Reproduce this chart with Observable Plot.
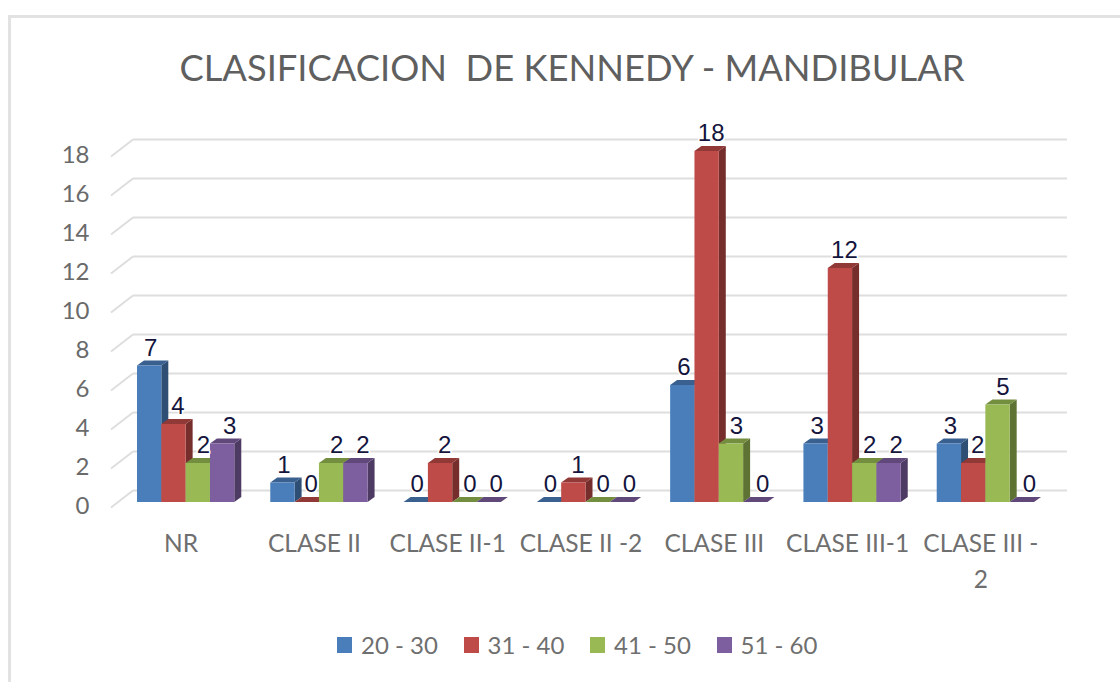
<!DOCTYPE html>
<html>
<head>
<meta charset="utf-8">
<script src="https://cdn.jsdelivr.net/npm/d3@7"></script>
<script src="https://cdn.jsdelivr.net/npm/@observablehq/plot@0.6"></script>
<style>
  html, body { margin: 0; background: #fff; }
  #page { position: relative; width: 1120px; height: 682px; overflow: hidden; font-family: Lato, "Open Sans", sans-serif; }
  #frame { position: absolute; left: 8px; top: 15px; width: 1200px; height: 800px; border: 3px solid #e2e2e2; box-sizing: border-box; }
  #title { position: absolute; left: 0; top: 43px; width: 1144px; text-align: center; font-size: 36.35px; line-height: 48px; color: #5f5f5f; white-space: pre; }
  #chart { position: absolute; left: 0; top: 120px; }
  #legend { position: absolute; left: 337px; top: 630px; display: flex; font-size: 24px; line-height: 30px; color: #6f6f6f; white-space: pre; }
  #legend .item { display: flex; align-items: center; width: 126.5px; }
  #legend .sw { width: 15px; height: 16px; margin-right: 9px; }
</style>
</head>
<body>
<div id="page">
  <div id="frame"></div>
  <div id="title"></div>
  <div id="chart"></div>
  <div id="legend"></div>
</div>
<script>
const title = "CLASIFICACION  DE KENNEDY - MANDIBULAR";
const categories = ["NR", "CLASE II", "CLASE II-1", "CLASE II -2", "CLASE III", "CLASE III-1", "CLASE III - 2"];
const series = ["20 - 30", "31 - 40", "41 - 50", "51 - 60"];
const colors = ["#4a7ebb", "#be4b48", "#98b954", "#7d5fa0"];
const values2030 = [7, 1, 0, 0, 6, 3, 3];
const values3140 = [4, 0, 2, 1, 18, 12, 2];
const values4150 = [2, 2, 0, 0, 3, 2, 5];
const values5160 = [3, 2, 0, 0, 0, 2, 0];
const yTicks = [0, 2, 4, 6, 8, 10, 12, 14, 16, 18];
const allValues = [values2030, values3140, values4150, values5160];

const rows = series.flatMap((s, i) => categories.map((c, j) => ({category: c, series: s, value: allValues[i][j]})));
const gridRows = yTicks.map(v => ({category: categories[0], v}));

const depthX = 7, depthY = 5;
const labelShift = [1, 4, 5, 7];

function faces(index, scales, values, dimensions, context, next) {
  const g = next(index, scales, values, dimensions, context);
  for (const rect of [...g.querySelectorAll("rect")]) {
    const x = +rect.getAttribute("x"), y = +rect.getAttribute("y");
    const w = +rect.getAttribute("width"), h = +rect.getAttribute("height");
    const base = d3.color(rect.getAttribute("fill"));
    const side = document.createElementNS("http://www.w3.org/2000/svg", "path");
    side.setAttribute("d", `M${x + w},${y}l${depthX},${-depthY}v${h}l${-depthX},${depthY}z`);
    side.setAttribute("fill", base.darker(1.35));
    const top = document.createElementNS("http://www.w3.org/2000/svg", "path");
    top.setAttribute("d", `M${x},${y}l${depthX},${-depthY}h${w}l${-depthX},${depthY}z`);
    top.setAttribute("fill", base.darker(0.75));
    g.insertBefore(side, rect);
    g.insertBefore(top, rect);
  }
  return g;
}

function withFloor(index, scales, values, dimensions, context, next) {
  const g = next(index, scales, values, dimensions, context);
  for (const line of [...g.querySelectorAll("line")]) {
    const x = +line.getAttribute("x1"), y = +line.getAttribute("y1");
    const d = document.createElementNS("http://www.w3.org/2000/svg", "line");
    d.setAttribute("x1", x - 22); d.setAttribute("y1", y + 17);
    d.setAttribute("x2", x); d.setAttribute("y2", y);
    g.appendChild(d);
  }
  return g;
}

const plot = Plot.plot({
  width: 1120,
  height: 480,
  marginLeft: 101,
  marginRight: 50,
  marginTop: 31,
  marginBottom: 98,
  style: {background: "transparent", overflow: "visible", fontFamily: "Lato, 'Open Sans', sans-serif"},
  fx: {domain: categories, paddingInner: 0.27, paddingOuter: 0.27, round: false, label: null, axis: null},
  x: {domain: series, padding: 0, round: false, axis: null},
  y: {domain: [0, 18], label: null, axis: null},
  color: {domain: series, range: colors},
  marks: [
    Plot.ruleY(gridRows, {fx: "category", y: "v", insetLeft: -4, insetRight: -832.7, dy: -12, stroke: "#dedede", strokeWidth: 2, render: withFloor}),
    Plot.axisY({ticks: yTicks, anchor: "left", tickSize: 0, tickPadding: 48, dy: 4, fontSize: 24, fill: "#6a6a6a", label: null}),
    Plot.axisFx({anchor: "bottom", tickSize: 0, tickPadding: 23, dx: -5, fontSize: 24.5, fill: "#6f6f6f", label: null, lineHeight: 1.5,
      tickFormat: d => d === "CLASE III - 2" ? "CLASE III -\n2" : d}),
    ...series.map((s) => Plot.barY(rows.filter(r => r.series === s), {fx: "category", x: "series", y: "value", fill: "series", render: faces})),
    ...series.map((s, i) => Plot.text(rows.filter(r => r.series === s), {
      fx: "category", x: "series", y: "value", text: "value", dx: labelShift[i], dy: -18,
      fontSize: 24, fontFamily: "Liberation Sans", fill: "#14143c", stroke: "#fff", strokeWidth: 3
    }))
  ]
});

document.getElementById("chart").appendChild(plot);
document.getElementById("title").textContent = title;
const legend = d3.select("#legend");
series.forEach((s, i) => {
  const it = legend.append("div").attr("class", "item");
  it.append("div").attr("class", "sw").style("background", colors[i]);
  it.append("span").text(s);
});
</script>
</body>
</html>
